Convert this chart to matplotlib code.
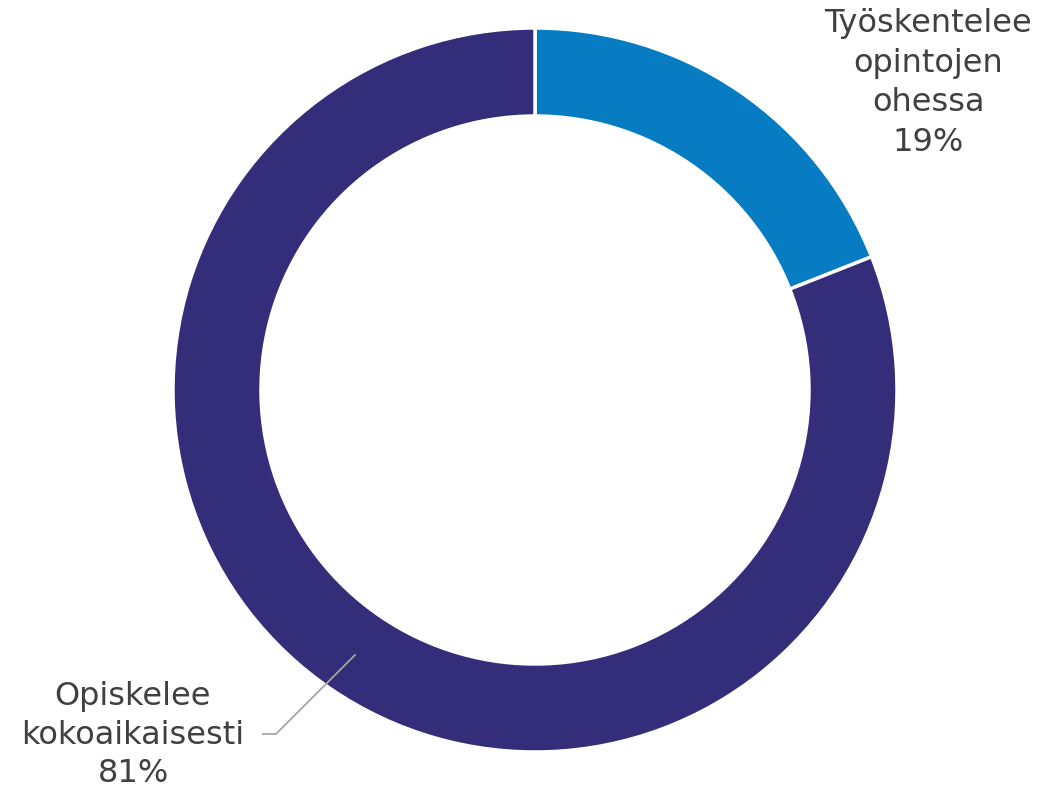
import matplotlib
matplotlib.use("Agg")
import matplotlib.pyplot as plt

categories = ["Työskentelee\nopintojen\nohessa", "Opiskelee\nkokoaikaisesti"]
values = [19, 81]
colors = ["#077CC3", "#332D7A"]

W, H = 1061, 789
fig = plt.figure(figsize=(W / 100, H / 100), dpi=100)
ax = fig.add_axes([0, 0, 1, 1])
ax.set_xlim(0, W)
ax.set_ylim(0, H)
ax.set_aspect("equal")
ax.axis("off")

cx, cy, R = 535, H - 390, 362
ax.pie(values, colors=colors, startangle=90, counterclock=False,
       center=(cx, cy), radius=R,
       wedgeprops=dict(width=88, edgecolor="white", linewidth=2.5))
ax.set_xlim(0, W)
ax.set_ylim(0, H)

tc = "#404040"
ax.text(928, H - 83, f"{categories[0]}\n{values[0]}%", ha="center", va="center",
        fontsize=23, color=tc, linespacing=1.36)
ax.text(133, H - 735, f"{categories[1]}\n{values[1]}%", ha="center", va="center",
        fontsize=23, color=tc, linespacing=1.3)
ax.plot([355, 276, 263], [H - 655, H - 734, H - 734], color="#A6A6A6", lw=1.3)

fig.savefig("out.png", dpi=100)
